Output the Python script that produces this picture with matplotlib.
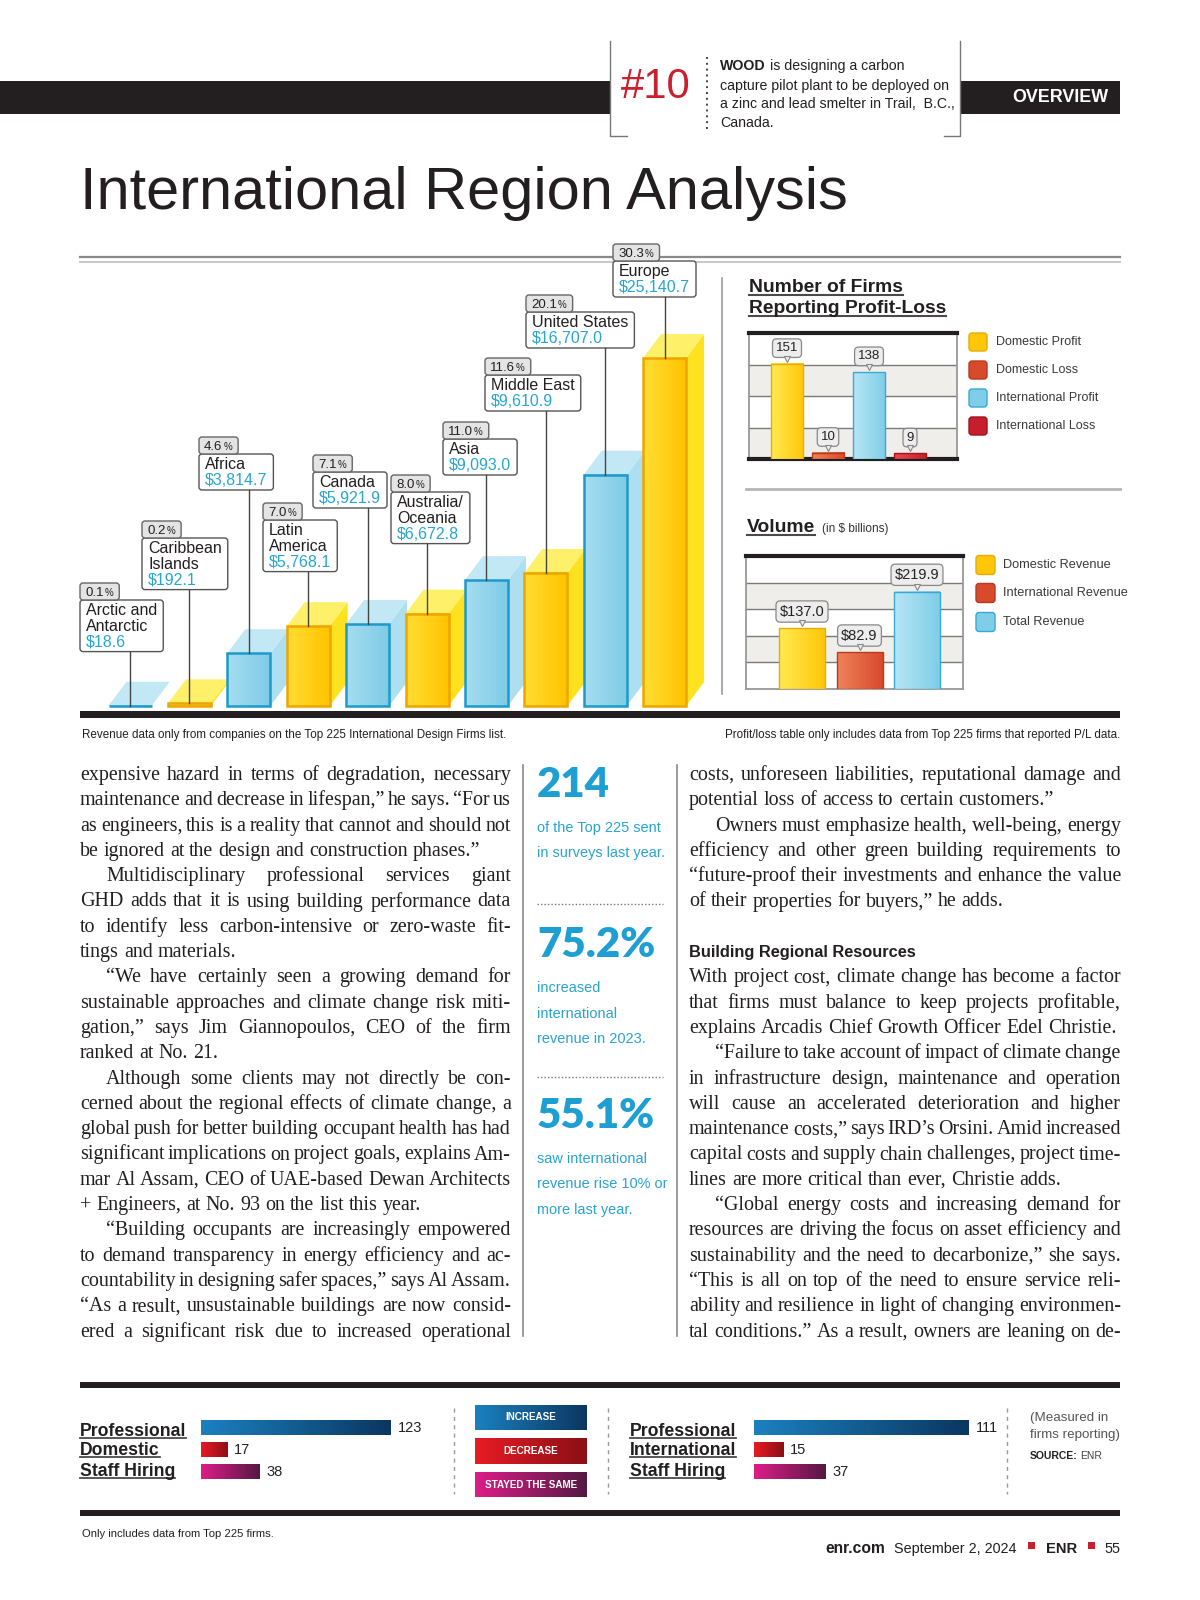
import numpy as np
import matplotlib
matplotlib.use("Agg")
import matplotlib.pyplot as plt
from matplotlib.patches import Rectangle, Polygon, FancyBboxPatch
from matplotlib.font_manager import FontProperties
from matplotlib.colors import LinearSegmentedColormap
from matplotlib.transforms import offset_copy

# ---------------- data ----------------
regions = ["Arctic and\nAntarctic", "Caribbean\nIslands", "Africa", "Latin\nAmerica", "Canada",
           "Australia/\nOceania", "Asia", "Middle East", "United States", "Europe"]
revenue = [18.6, 192.1, 3814.7, 5768.1, 5921.9, 6672.8, 9093.0, 9610.9, 16707.0, 25140.7]
share = [0.1, 0.2, 4.6, 7.0, 7.1, 8.0, 11.0, 11.6, 20.1, 30.3]

pl_labels = ["Domestic Profit", "Domestic Loss", "International Profit", "International Loss"]
pl_counts = [151, 10, 138, 9]

vol_labels = ["Domestic Revenue", "International Revenue", "Total Revenue"]
vol_values = [137.0, 82.9, 219.9]

hire_labels = ["INCREASE", "DECREASE", "STAYED THE SAME"]
dom_hiring = [123, 17, 38]
intl_hiring = [111, 15, 37]

stats = ["214", "75.2%", "55.1%"]
stat_notes = [["of the Top 225 sent", "in surveys last year."],
              ["increased", "international", "revenue in 2023."],
              ["saw international", "revenue rise 10% or", "more last year."]]

# ">" = indented first line, "|" = last line of paragraph (not justified)
left_col = [
    "expensive hazard in terms of degradation, necessary",
    "maintenance and decrease in lifespan,” he says. “For us",
    "as engineers, this is a reality that cannot and should not",
    "be ignored at the design and construction phases.”|",
    ">Multidisciplinary professional services giant",
    "GHD adds that it is using building performance data",
    "to identify less carbon-intensive or zero-waste fit-",
    "tings and materials.|",
    ">“We have certainly seen a growing demand for",
    "sustainable approaches and climate change risk miti-",
    "gation,” says Jim Giannopoulos, CEO of the firm",
    "ranked at No. 21.|",
    ">Although some clients may not directly be con-",
    "cerned about the regional effects of climate change, a",
    "global push for better building occupant health has had",
    "significant implications on project goals, explains Am-",
    "mar Al Assam, CEO of UAE-based Dewan Architects",
    "+ Engineers, at No. 93 on the list this year.|",
    ">“Building occupants are increasingly empowered",
    "to demand transparency in energy efficiency and ac-",
    "countability in designing safer spaces,” says Al Assam.",
    "“As a result, unsustainable buildings are now consid-",
    "ered a significant risk due to increased operational",
]
right_col = [
    "costs, unforeseen liabilities, reputational damage and",
    "potential loss of access to certain customers.”|",
    ">Owners must emphasize health, well-being, energy",
    "efficiency and other green building requirements to",
    "“future-proof their investments and enhance the value",
    "of their properties for buyers,” he adds.|",
    "",
    "",
    "With project cost, climate change has become a factor",
    "that firms must balance to keep projects profitable,",
    "explains Arcadis Chief Growth Officer Edel Christie.|",
    ">“Failure to take account of impact of climate change",
    "in infrastructure design, maintenance and operation",
    "will cause an accelerated deterioration and higher",
    "maintenance costs,” says IRD’s Orsini. Amid increased",
    "capital costs and supply chain challenges, project time-",
    "lines are more critical than ever, Christie adds.|",
    ">“Global energy costs and increasing demand for",
    "resources are driving the focus on asset efficiency and",
    "sustainability and the need to decarbonize,” she says.",
    "“This is all on top of the need to ensure service reli-",
    "ability and resilience in light of changing environmen-",
    "tal conditions.” As a result, owners are leaning on de-",
]

# ---------------- fonts / helpers ----------------
SANS = ["Liberation Sans", "DejaVu Sans"]
NARROW = ["Liberation Sans Narrow", "Liberation Sans", "DejaVu Sans"]
SERIF = ["Liberation Serif", "DejaVu Serif"]
HEAVY = ["Lato", "Open Sans", "DejaVu Sans"]
INK = "#231f20"
CYAN = "#1E9FD3"

W, H = 1200, 1600
fig = plt.figure(figsize=(12, 16), dpi=100, facecolor="white")
pg = fig.add_axes([0, 0, 1, 1])
pg.set_xlim(0, W)
pg.set_ylim(H, 0)
pg.axis("off")
R = fig.canvas.get_renderer()


def fp(family, size, weight="normal"):
    return FontProperties(family=family, size=size, weight=weight)


def tw(s, prop):
    return R.get_text_width_height_descent(s, prop, ismath=False)[0]


def fit(s, family, target, weight="normal"):
    return 20 * target / tw(s, fp(family, 20, weight))


def put(x, y, s, prop, color=INK, **kw):
    return pg.text(x, y, s, fontproperties=prop, color=color, **kw)


def px_axes(x0, y0, x1, y1):
    return fig.add_axes([x0 / W, 1 - y1 / H, (x1 - x0) / W, (y1 - y0) / H])


def grad(ax, x0, x1, y0, y1, c0, c1, z=2):
    cmap = LinearSegmentedColormap.from_list("g", [c0, c1])
    g = np.linspace(0, 1, 64).reshape(1, -1)
    ax.imshow(g, extent=[x0, x1, y0, y1], cmap=cmap, aspect="auto",
              interpolation="bilinear", zorder=z)


def underline(x, yb, s, prop, lw=1.5):
    pg.plot([x, x + tw(s, prop)], [yb + 3, yb + 3], color="#4a4a4a", lw=lw)


# ---------------- header ----------------
pg.add_patch(Rectangle((0, 81), 610, 33, color=INK, lw=0))
pg.add_patch(Rectangle((960, 81), 160, 33, color=INK, lw=0))
pg.plot([610, 610, 627], [41, 136, 136], color="#777", lw=1)
pg.plot([960, 960, 944], [41, 136, 136], color="#777", lw=1)
put(656, 87, "#10", fp(NARROW, fit("#10", NARROW, 70)), color="#C8202F", ha="center", va="center")
pg.plot([707, 707], [57, 131], color="#444", lw=1.4, linestyle=(0, (1, 2)))
wsz = fit("capture pilot plant to be deployed on", NARROW, 228)
wood_b = fp(NARROW, wsz, "bold")
put(720, 66, "WOOD", wood_b, va="center")
put(720 + tw("WOOD", wood_b) + 4, 66, "is designing a carbon", fp(NARROW, wsz), va="center")
for s, y in zip(["capture pilot plant to be deployed on", "a zinc and lead smelter in Trail,  B.C.,", "Canada."],
                [86, 104, 123]):
    put(720, y, s, fp(NARROW, wsz), va="center")
put(1060, 98, "OVERVIEW", fp(SANS, fit("OVERVIEW", SANS, 96, "bold"), "bold"), color="white",
    ha="center", va="center")

title = "International Region Analysis"
put(80, 209, title, fp(NARROW, fit(title, NARROW, 765, "light"), "light"), va="baseline")
pg.plot([80, 1120], [257, 257], color="#8a8a8a", lw=1.6)
pg.plot([80, 1120], [262, 262], color="#c8c8c8", lw=1.4)

# ---------------- main 3D bar chart ----------------
ax = px_axes(80, 240, 745, 712)
base_px, top_px, step = 706, 358, 59.4
u = max(revenue) / (base_px - top_px)
ax.set_ylim(-(712 - base_px) * u, (base_px - 240) * u)
ax.set_xlim(-(130 - 80) / step, (745 - 130) / step)
ax.axis("off")
bw, ddx, ddy = 43 / step, 18 / step, 24 * u

for i, v in enumerate(revenue):
    if i % 2:
        c0, c1, edge, top, side = "#FFDD33", "#FFC400", "#EDA500", "#FFF06A", "#FFE21F"
    else:
        c0, c1, edge, top, side = "#A6DDF0", "#7ECBE6", "#1C9ACB", "#C2E8F5", "#ADDFF1"
    l, r = i - bw / 2, i + bw / 2
    ax.add_patch(Polygon([(r, 0), (r + ddx, ddy), (r + ddx, v + ddy), (r, v)], closed=True,
                         fc=side, ec="none", zorder=2))
    ax.add_patch(Polygon([(l, v), (r, v), (r + ddx, v + ddy), (l + ddx, v + ddy)], closed=True,
                         fc=top, ec="none", zorder=2))
    grad(ax, l, r, 0, v, c0, c1, z=2)
    ax.bar(i, v, bw, color="none", edgecolor=edge, lw=1.8, zorder=2)

# region label boxes
lab_left = [80, 142, 199, 263, 313, 391, 443, 485, 526, 613]
lab_top = [600, 538, 454, 520, 472, 492, 439, 375, 312, 261]
name_fp = fp(SANS, 11.5)
pct_fp, pcs_fp = fp(SANS, 9.5), fp(SANS, 7)
for i, name in enumerate(regions):
    L, T = lab_left[i], lab_top[i]
    t1 = put(L + 6, T + 3, name, name_fp, va="top", linespacing=1.05, zorder=6)
    b1 = t1.get_window_extent(renderer=R)
    vs = f"${revenue[i]:,.1f}"
    t2 = put(L + 6, T + 4 + b1.height, vs, name_fp, color="#27A6D4", va="top", zorder=6)
    b2 = t2.get_window_extent(renderer=R)
    bottom = T + 6 + b1.height + b2.height
    wbox = max(b1.width, b2.width) + 12
    pg.add_patch(FancyBboxPatch((L, T), wbox, bottom - T, boxstyle="round,pad=0,rounding_size=3",
                                fc="white", ec="#555", lw=1, zorder=5))
    ps = f"{share[i]:.1f}"
    w3 = tw(ps, pct_fp)
    put(L + 5, T - 4, ps, pct_fp, va="baseline", zorder=8)
    put(L + 6 + w3, T - 4, "%", pcs_fp, va="baseline", zorder=8)
    pg.add_patch(FancyBboxPatch((L, T - 17), w3 + tw("%", pcs_fp) + 12, 17,
                                boxstyle="round,pad=0,rounding_size=3",
                                fc="#E4E4E4", ec="#666", lw=1, zorder=7))
    ybox = ax.transData.inverted().transform((0, H - bottom))[1]
    ax.plot([i, i], [revenue[i], ybox], color="#444", lw=1, zorder=5, clip_on=False)

pg.add_patch(Rectangle((80, 711), 1040, 7, color=INK, lw=0, zorder=4))
cap_fp = fp(NARROW, fit("Revenue data only from companies on the Top 225 International Design Firms list.", NARROW, 423))
put(82, 738, "Revenue data only from companies on the Top 225 International Design Firms list.", cap_fp, va="baseline")
put(1120, 738, "Profit/loss table only includes data from Top 225 firms that reported P/L data.", cap_fp,
    va="baseline", ha="right")

# ---------------- right panel ----------------
pg.plot([722, 722], [278, 694], color="#9a9a9a", lw=1.2)
hfp = fp(SANS, fit("Reporting Profit-Loss", SANS, 198, "bold"), "bold")
for s, yb in [("Number of Firms", 292), ("Reporting Profit-Loss", 313)]:
    put(749, yb, s, hfp, va="baseline")
    underline(749, yb, s, hfp)


def tag(a, x, v, s, size):
    a.annotate(s, (x, v), xytext=(0, 7), textcoords="offset points", ha="center", va="bottom",
               fontproperties=fp(SANS, size), color="#222", zorder=8,
               bbox=dict(boxstyle="round,pad=0.25,rounding_size=0.3", fc="#EDEDED", ec="#888", lw=0.9))
    a.plot(x, v, marker="v", ms=5, color="#EDEDED", mec="#888", mew=0.8, zorder=9, clip_on=False,
           transform=offset_copy(a.transData, fig=fig, x=0, y=5, units="dots"))


def frame(a, stripes, grid, bottom_black):
    for lo, hi in stripes:
        a.axhspan(lo, hi, color="#F0EEEB", zorder=0, lw=0)
    for g in grid:
        a.axhline(g, color="#7a7a7a", lw=1, zorder=1)
    a.set_xticks([])
    a.set_yticks([])
    for k, sp in a.spines.items():
        sp.set_color("#999")
        sp.set_linewidth(1.3)
    a.spines["top"].set_color(INK)
    a.spines["top"].set_linewidth(3)
    if bottom_black:
        a.spines["bottom"].set_color(INK)
        a.spines["bottom"].set_linewidth(3)


pl_cols = [("#FFEA50", "#FFC60A", "#E3AE00"), ("#F0825A", "#D84A2C", "#B83A1E"),
           ("#B6E6F5", "#80CDE7", "#35AAD3"), ("#EA4A52", "#C61E2C", "#A0141F")]
pl = px_axes(749, 333, 957, 459)
pl.set_xlim(-0.927, 4.146)
pl.set_ylim(0, 200)
frame(pl, [(0, 50), (100, 150)], [50, 100, 150], True)
for i, v in enumerate(pl_counts):
    c0, c1, ec = pl_cols[i]
    grad(pl, i - 0.4, i + 0.4, 0, v, c0, c1, z=3)
    pl.bar(i, v, 0.8, color="none", edgecolor=ec, lw=1, zorder=4)
    tag(pl, i, v, str(v), 9.5)

leg_fp = fp(SANS, fit("International Profit", SANS, 101))
for yc, lab, (c0, c1, ec) in zip([342, 370, 398, 426], pl_labels, pl_cols):
    pg.add_patch(FancyBboxPatch((969, yc - 9), 18, 18, boxstyle="round,pad=0,rounding_size=3",
                                fc=c1, ec=ec, lw=1))
    put(996, yc, lab, leg_fp, color="#3a3a3a", va="center")

pg.plot([746, 1120], [489, 489], color="#b5b5b5", lw=2)
vfp = fp(SANS, fit("Volume", SANS, 68, "bold"), "bold")
put(747, 532, "Volume", vfp, va="baseline")
underline(747, 532, "Volume", vfp)
put(822, 532, "(in $ billions)", fp(SANS, fit("(in $ billions)", SANS, 66)), color="#333", va="baseline")

vol_cols = [pl_cols[0], pl_cols[1], pl_cols[2]]
vo = px_axes(746, 556, 963, 689)
vo.set_xlim(-0.974, 2.8)
vo.set_ylim(0, 300)
frame(vo, [(60, 120), (180, 240)], [60, 120, 180, 240], False)
for i, v in enumerate(vol_values):
    c0, c1, ec = vol_cols[i]
    grad(vo, i - 0.4, i + 0.4, 0, v, c0, c1, z=3)
    vo.bar(i, v, 0.8, color="none", edgecolor=ec, lw=1, zorder=4)
    tag(vo, i, v, f"${v:.1f}", 10.5)

leg2_fp = fp(SANS, fit("International Revenue", SANS, 125))
for yc, lab, (c0, c1, ec) in zip([565, 593, 622], vol_labels, vol_cols):
    pg.add_patch(FancyBboxPatch((976, yc - 9.5), 19, 19, boxstyle="round,pad=0,rounding_size=3",
                                fc=c1, ec=ec, lw=1))
    put(1003, yc, lab, leg2_fp, color="#3a3a3a", va="center")


# ---------------- body text ----------------
def column(lines, x0, x1, base0, pitch, size=14.4):
    for k, ln in enumerate(lines):
        if not ln:
            continue
        indent = ln.startswith(">")
        last = ln.endswith("|")
        txt = ln[1:] if indent else ln
        txt = txt[:-1] if last else txt
        words = txt.split()
        xs = x0 + (26 if indent else 0)
        sz = size
        prop = fp(SERIF, sz)
        ws = [tw(w, prop) for w in words]
        sp = tw("a a", prop) - tw("aa", prop)
        if last or len(words) < 2:
            gap = sp
        else:
            gap = (x1 - xs - sum(ws)) / (len(words) - 1)
            if gap < 0.6 * sp:
                # tighten the line a little so it still fits the measure
                sz = sz * (x1 - xs - (len(words) - 1) * 0.6 * sp) / sum(ws)
                prop = fp(SERIF, sz)
                ws = [tw(w, prop) for w in words]
                gap = (x1 - xs - sum(ws)) / (len(words) - 1)
        y = base0 + k * pitch
        for w, wd in zip(words, ws):
            put(xs, y, w, prop, va="baseline")
            xs += wd + gap


column(left_col, 80, 511, 780, 25.3)
column(right_col, 689, 1121, 780, 25.3)
hd = "Building Regional Resources"
put(689, 780 + 7 * 25.3, hd, fp(NARROW, fit(hd, NARROW, 228, "bold"), "bold"), va="baseline")

# sidebar
for x in (523, 677):
    pg.plot([x, x], [765, 1336], color="#8a8a8a", lw=1.2)
stat_fp = fp(HEAVY, fit("75.2%", HEAVY, 118, "heavy"), "heavy")
note_fp = fp(NARROW, fit("revenue rise 10% or", NARROW, 130))
stat_base = [797, 957, 1128]
for s, notes, yb in zip(stats, stat_notes, stat_base):
    put(537, yb, s, stat_fp, color=CYAN, va="baseline")
    for j, n in enumerate(notes):
        put(537, yb + 35 + j * 25.5, n, note_fp, color="#2AA3D3", va="baseline")
for yd in (904, 1077):
    pg.plot([537, 663], [yd, yd], color="#777", lw=1, linestyle=(0, (1, 1.5)))

# ---------------- hiring section ----------------
pg.add_patch(Rectangle((80, 1382), 1040, 6, color=INK, lw=0))
pg.add_patch(Rectangle((80, 1510), 1040, 6, color=INK, lw=0))

hire_cols = [("#1B80C0", "#0B3760"), ("#E81B24", "#8A1016"), ("#DC1D88", "#551943")]
lbl_fp = fp(SANS, fit("Professional", SANS, 106, "bold"), "bold")


def hiring(x_lab, x0, x1, words, vals):
    for s, yb in zip(words, [1436, 1455, 1476]):
        put(x_lab, yb, s, lbl_fp, va="baseline")
        underline(x_lab, yb - 1, s, lbl_fp, lw=1.3)
    ha = px_axes(x0, 1417, x1, 1483)
    ha.set_xlim(0, max(vals))
    ha.set_ylim(2.5, -0.5)
    ha.axis("off")
    for i, v in enumerate(vals):
        grad(ha, 0, v, i - 0.34, i + 0.34, hire_cols[i][0], hire_cols[i][1])
        ha.annotate(str(v), (v, i), xytext=(5, 0), textcoords="offset points", va="center",
                    fontproperties=fp(SANS, 10.5), color="#222", annotation_clip=False)


hiring(80, 201, 391, ["Professional", "Domestic", "Staff Hiring"], dom_hiring)
hiring(630, 754, 969, ["Professional", "International", "Staff Hiring"], intl_hiring)

btn_fp = fp(NARROW, fit("STAYED THE SAME", NARROW, 92, "bold"), "bold")
for (y0, y1), lab, (c0, c1) in zip([(1405, 1430), (1438, 1464), (1472, 1497)], hire_labels, hire_cols):
    grad(pg, 475, 587, y1, y0, c0, c1)
    put(531, (y0 + y1) / 2, lab, btn_fp, color="white", ha="center", va="center", zorder=4)
for x in (454, 608, 1007):
    pg.plot([x, x], [1408, 1494], color="#9a9a9a", lw=1, linestyle=(0, (3, 3)))

m_fp = fp(SANS, fit("firms reporting)", SANS, 90))
put(1030, 1421, "(Measured in", m_fp, color="#555", va="baseline")
put(1030, 1438, "firms reporting)", m_fp, color="#555", va="baseline")
sb = fp(SANS, 7.5, "bold")
put(1030, 1459, "SOURCE:", sb, va="baseline")
put(1030 + tw("SOURCE:", sb) + 2, 1459, "ENR", fp(SANS, 7.5), color="#444", va="baseline")

foot = "Only includes data from Top 225 firms."
put(82, 1537, foot, fp(NARROW, fit(foot, NARROW, 191)), va="baseline")

# footer
date_fp = fp(NARROW, fit("September 2, 2024", NARROW, 122))
put(825, 1553, "enr.com", fp(SANS, fit("enr.com", SANS, 60, "bold"), "bold"), va="baseline")
put(894, 1553, "September 2, 2024", date_fp, va="baseline")
put(1046, 1553, "ENR", fp(SANS, fit("ENR", SANS, 31, "bold"), "bold"), va="baseline")
put(1120, 1553, "55", date_fp, va="baseline", ha="right")
for x in (1028, 1088):
    pg.add_patch(Rectangle((x, 1542), 7, 7, color="#C8202F", lw=0))

fig.savefig("out.png", dpi=100, facecolor="white")
